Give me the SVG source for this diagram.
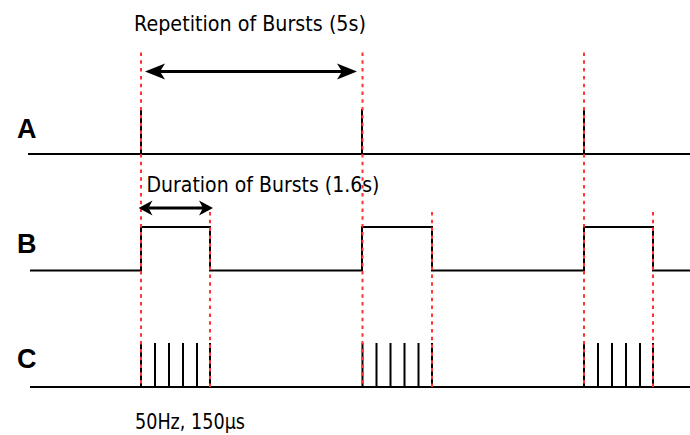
<svg xmlns="http://www.w3.org/2000/svg" width="690" height="435" viewBox="0 0 690 435">
  <style>
    .sig { fill: none; stroke: #000; stroke-width: 2; stroke-linejoin: miter; }
    .guide { fill: none; stroke: #ff3333; stroke-width: 2; stroke-dasharray: 3.5 4.3; }
    .arrow { fill: none; stroke: #000; stroke-width: 3; }
    .lbl { font-family: "Liberation Sans", Arial, sans-serif; font-weight: bold; font-size: 27px; fill: #000; }
    .txt { font-family: "DejaVu Sans", Verdana, sans-serif; font-size: 21px; fill: #000; }
  </style>
  <defs>
    <marker id="headL" markerUnits="userSpaceOnUse" markerWidth="22" markerHeight="18" viewBox="-22 -9 22 18" refX="-15" refY="0" orient="auto-start-reverse">
      <path d="M0,0 L-20,-8 L-15,0 L-20,8 Z" fill="#000"/>
    </marker>
    <marker id="headS" markerUnits="userSpaceOnUse" markerWidth="16" markerHeight="18" viewBox="-16 -9 16 18" refX="-10" refY="0" orient="auto-start-reverse">
      <path d="M0,0 L-14,-7.5 L-10,0 L-14,7.5 Z" fill="#000"/>
    </marker>
  </defs>

  <g id="labels">
    <text class="lbl" x="17" y="137.5">A</text>
    <text class="lbl" x="17" y="253">B</text>
    <text class="lbl" x="17" y="368">C</text>
  </g>

  <g id="signal-A">
    <path class="sig" d="M28,154 H690 M141,109 V154 M362,109 V154 M584,109 V154"/>
  </g>

  <g id="signal-B">
    <path class="sig" d="M30,270.5 H141 V227 H210 V270.5 H362 V227 H432 V270.5 H584 V227 H653 V270.5 H690"/>
  </g>

  <g id="signal-C">
    <path class="sig" d="M30,387 H690
      M141,343 V387 M155,343 V387 M169,343 V387 M183,343 V387 M197,343 V387 M210,343 V387
      M362.5,343 V387 M376.5,343 V387 M390.5,343 V387 M404.5,343 V387 M418.5,343 V387 M432,343 V387
      M584,343 V387 M598,343 V387 M612,343 V387 M626,343 V387 M640,343 V387 M653,343 V387"/>
  </g>

  <g id="guides">
    <line class="guide" x1="141" y1="52.5" x2="141" y2="387"/>
    <line class="guide" x1="362.5" y1="52.5" x2="362.5" y2="387"/>
    <line class="guide" x1="584" y1="52.5" x2="584" y2="387"/>
    <line class="guide" x1="210" y1="212" x2="210" y2="387"/>
    <line class="guide" x1="432" y1="212" x2="432" y2="387"/>
    <line class="guide" x1="653" y1="212" x2="653" y2="387"/>
  </g>

  <g id="connectors">
    <line class="arrow" x1="160" y1="71.5" x2="342" y2="71.5" marker-start="url(#headL)" marker-end="url(#headL)"/>
    <line class="arrow" x1="148.5" y1="208" x2="203" y2="208" marker-start="url(#headS)" marker-end="url(#headS)"/>
  </g>

  <g id="annotations">
    <text class="txt" x="134" y="31" textLength="232" lengthAdjust="spacingAndGlyphs">Repetition of Bursts (5s)</text>
    <text class="txt" x="146.5" y="192" textLength="233" lengthAdjust="spacingAndGlyphs">Duration of Bursts (1.6s)</text>
    <text class="txt" x="135" y="429" textLength="110" lengthAdjust="spacingAndGlyphs">50Hz, 150μs</text>
  </g>
</svg>
